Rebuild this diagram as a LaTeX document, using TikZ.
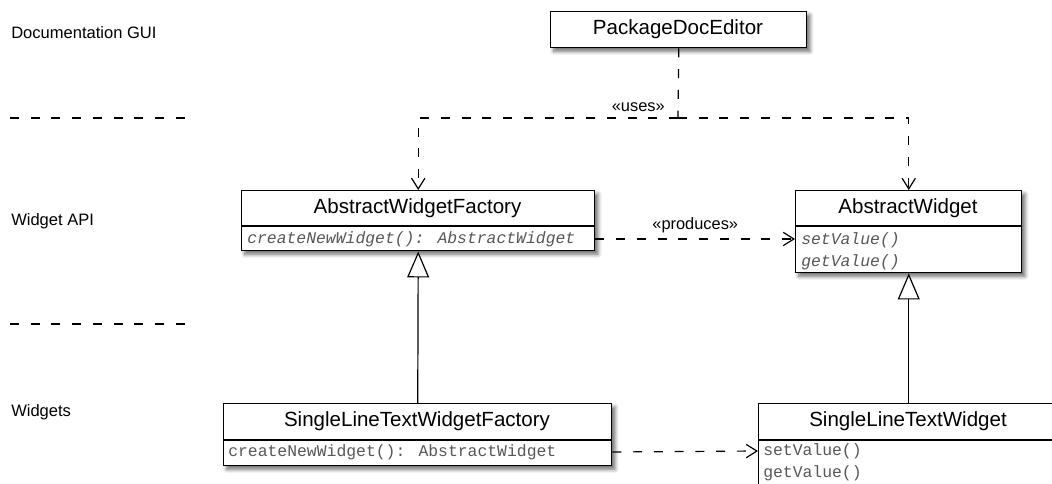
\documentclass[tikz,border=0pt]{standalone}
\usepackage{fontspec}
\setmainfont{Liberation Sans}
\newfontfamily\codefont{Liberation Mono}
\usetikzlibrary{arrows.meta,shadows.blur}

\def\unitpx{0.75pt}

\begin{document}
\begin{tikzpicture}[x=0.75pt,y=-0.75pt,
  classbox/.style={draw=black, line width=1.1pt, fill=white, rectangle,
    inner sep=0pt, anchor=north west,
    blur shadow={shadow xshift=2.4pt, shadow yshift=-2.6pt,
      shadow blur steps=7, shadow blur radius=3pt, shadow opacity=60}},
  divider/.style={draw=black, line width=1pt},
  title/.style={font=\fontsize{15.4}{18}\selectfont, inner sep=0pt},
  op/.style={font=\codefont\fontsize{12.3}{14}\selectfont, text=black!66,
    anchor=west, inner sep=0pt},
  abstractop/.style={op, font=\codefont\itshape\fontsize{12.3}{14}\selectfont},
  layer/.style={font=\fontsize{12.4}{14}\selectfont, anchor=west, inner sep=0pt},
  stereo/.style={font=\fontsize{12.3}{14}\selectfont, inner sep=0pt},
  dashline/.style={line width=0.9pt, dash pattern=on 6.75pt off 8.8pt},
  dep/.style={draw, dashline, -{Straight Barb[length=8pt,width=10pt,line width=0.9pt]}},
  realize/.style={draw, line width=0.9pt,
    -{Triangle[open,length=19.5pt,width=16.5pt,line width=0.9pt,fill=white]}}
]
\useasboundingbox (0,0) rectangle (1052,484);
\clip (0,0) rectangle (1052,484);

% layer names and separators
\node[layer] (lgui) at (11,33) {Documentation GUI};
\node[layer] (lapi) at (11,221) {Widget API};
\node[layer] (lwid) at (11,412) {Widgets};
\draw[dashline] (10,118) -- (188,118);
\draw[dashline] (10,324) -- (188,324);

% classes
\node[classbox, minimum width=256*\unitpx, minimum height=36*\unitpx] (pde) at (550,11) {};
\node[title] (pdet) at (678,29) {PackageDocEditor};

\node[classbox, minimum width=353*\unitpx, minimum height=60*\unitpx] (awf) at (241,190) {};
\draw[divider] (241,226) -- (594,226);
\node[title] (awft) at (417.5,208) {AbstractWidgetFactory};
\node[abstractop] (awfop) at (247,239) {createNewWidget(): AbstractWidget};

\node[classbox, minimum width=226*\unitpx, minimum height=82*\unitpx] (aw) at (795,190) {};
\draw[divider] (795,226) -- (1021,226);
\node[title] (awt) at (908,208) {AbstractWidget};
\node[abstractop] (awop1) at (801,240) {setValue()};
\node[abstractop] (awop2) at (801,262) {getValue()};

\node[classbox, minimum width=388*\unitpx, minimum height=62*\unitpx] (sf) at (223,403) {};
\draw[divider] (223,440) -- (611,440);
\node[title] (sft) at (417,421.5) {SingleLineTextWidgetFactory};
\node[op] (sfop) at (228,452) {createNewWidget(): AbstractWidget};

\node[classbox, minimum width=300*\unitpx, minimum height=95*\unitpx] (sw) at (758,403) {};
\draw[divider] (758,440) -- (1058,440);
\node[title] (swt) at (908,421.5) {SingleLineTextWidget};
\node[op] (swop1) at (763,451) {setValue()};
\node[op] (swop2) at (763,473) {getValue()};

% uses dependency
\coordinate (fork) at (678,118);
\draw[dashline] (pde.south) -- (fork);
\draw[dep] (fork) -| (awf.north);
\draw[dep] (fork) -| (aw.north);
\node[stereo, anchor=east] (uses) at (665,107) {«uses»};

% produces dependencies
\draw[dep] (awf.east |- awfop) -- (aw.west |- awfop)
  node[stereo, midway, above=4pt] (prod) {«produces»};
\draw[dep] (sf.east |- sfop) -- (sw.west |- swop1);

% generalisations
\draw[realize] (sf.north) -- (awf.south);
\draw[realize] (sw.north) -- (aw.south);
\end{tikzpicture}
\end{document}
